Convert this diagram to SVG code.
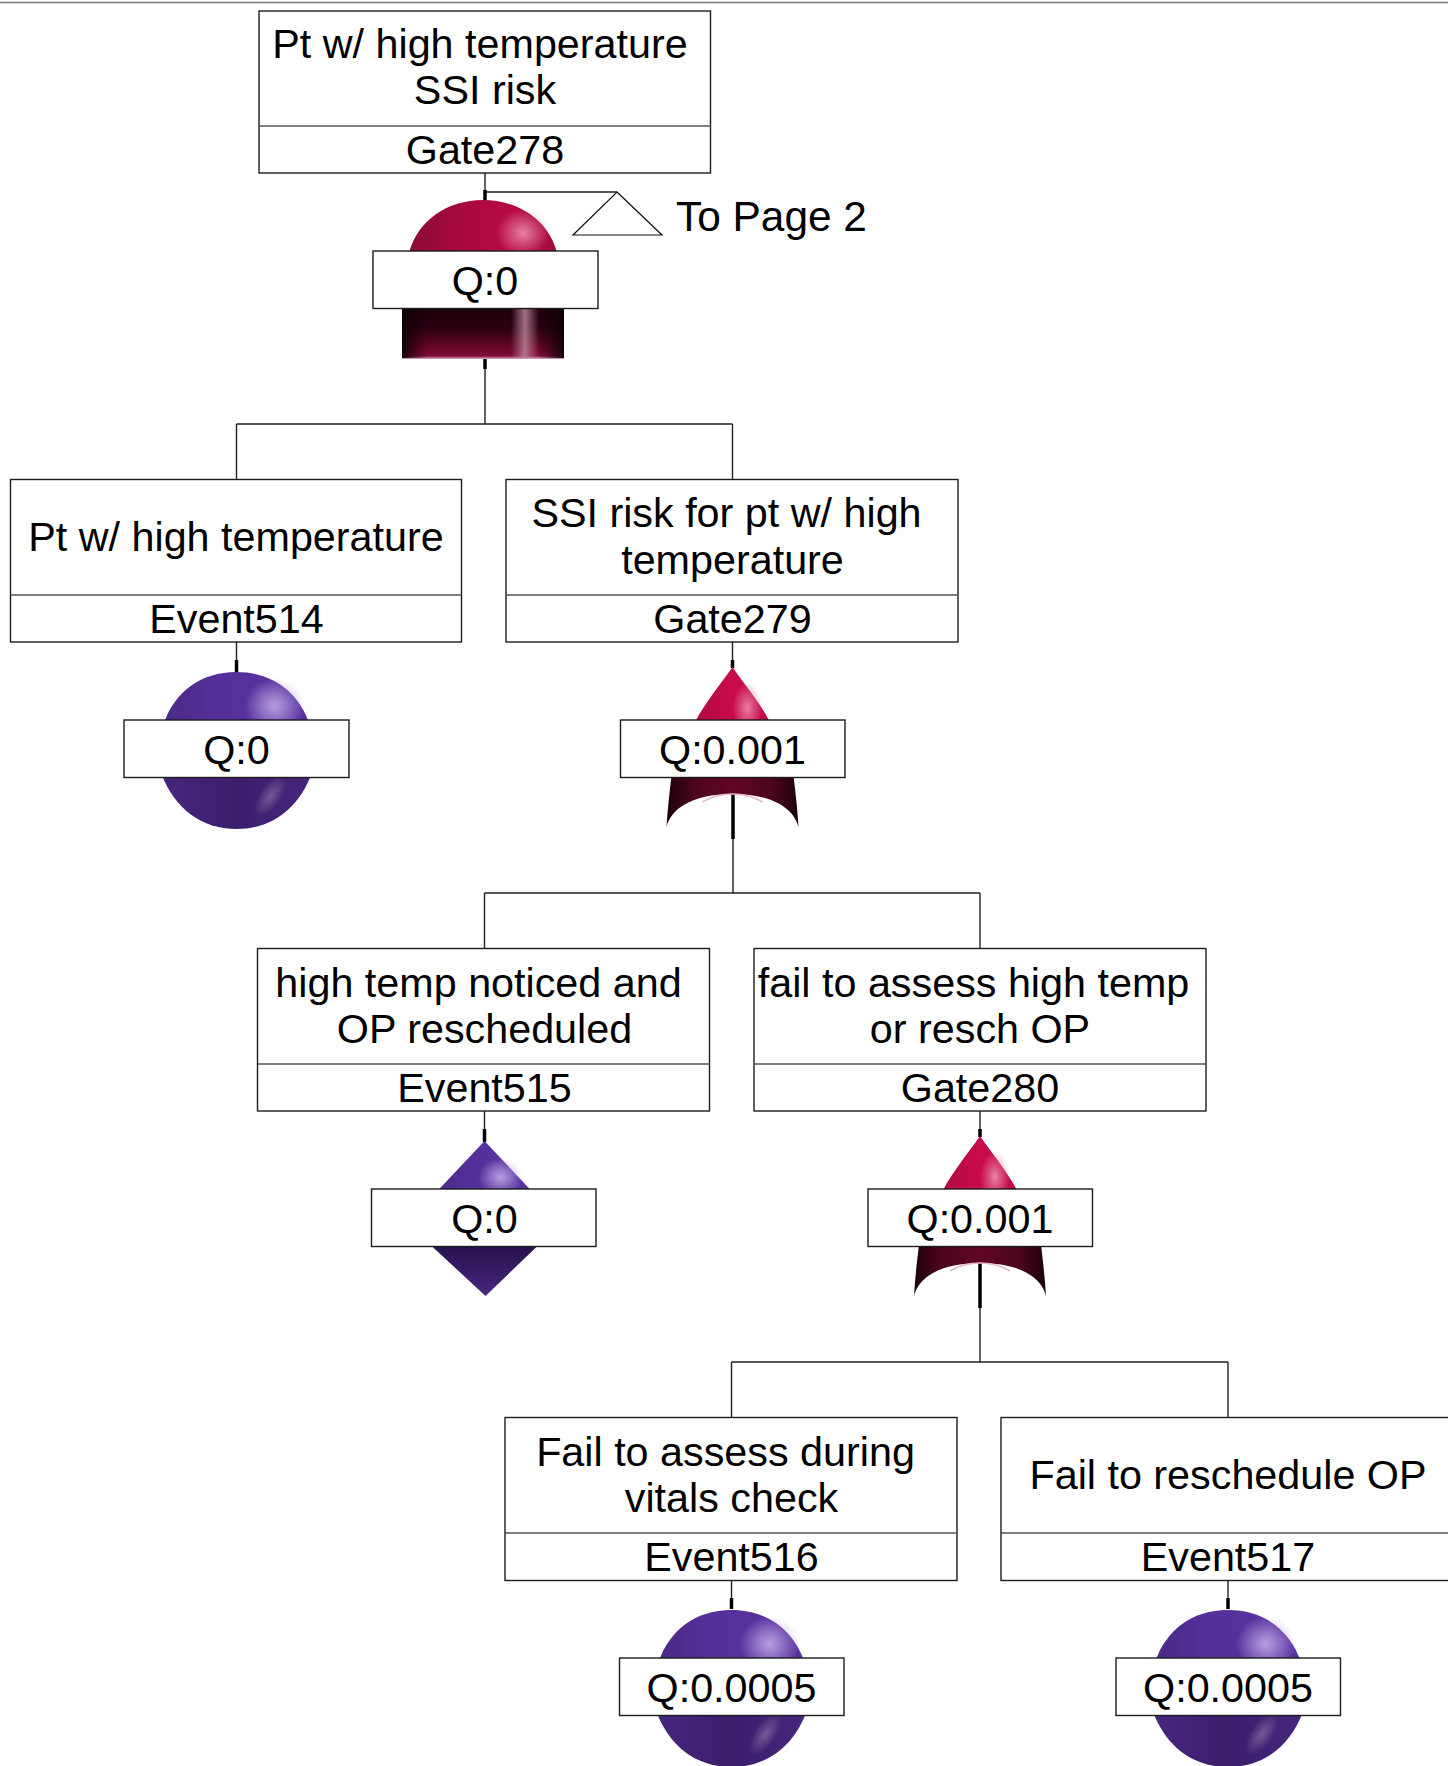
<svg xmlns="http://www.w3.org/2000/svg" xmlns:xlink="http://www.w3.org/1999/xlink" width="1448" height="1766" viewBox="0 0 1448 1766">
<style>
.box{fill:#fff;stroke:#1c1c1c;stroke-width:1.4}
.div{stroke:#555;stroke-width:1.4;fill:none}
.con{stroke:#222;stroke-width:1.4;fill:none}
.thick{stroke:#000;stroke-width:3.5;fill:none}
text{font-family:"Liberation Sans",Arial,sans-serif;font-size:41.3px;fill:#000;text-anchor:middle}
</style>
<defs>
<linearGradient id="crim" x1="0" x2="1" y1="0" y2="0"><stop offset="0" stop-color="#8a0a34"/><stop offset=".35" stop-color="#a80a3e"/><stop offset=".7" stop-color="#b80a44"/><stop offset="1" stop-color="#a00a3c"/></linearGradient>
<linearGradient id="crimTip" x1="0" x2="1" y1="0" y2="0"><stop offset="0" stop-color="#b00a40"/><stop offset=".5" stop-color="#c80a4c"/><stop offset="1" stop-color="#c00a48"/></linearGradient>
<radialGradient id="pink"><stop offset="0" stop-color="#ec86aa" stop-opacity=".95"/><stop offset=".45" stop-color="#ec86aa" stop-opacity=".5"/><stop offset="1" stop-color="#ec86aa" stop-opacity="0"/></radialGradient>
<linearGradient id="darkV" x1="0" x2="0" y1="0" y2="1"><stop offset="0" stop-color="#1c000c"/><stop offset=".4" stop-color="#2c0012"/><stop offset=".75" stop-color="#640626"/><stop offset=".94" stop-color="#800c38"/><stop offset="1" stop-color="#e4b0c4"/></linearGradient>
<linearGradient id="darkH" x1="0" x2="1" y1="0" y2="0"><stop offset="0" stop-color="#100008" stop-opacity=".95"/><stop offset=".16" stop-color="#100008" stop-opacity="0"/><stop offset=".84" stop-color="#100008" stop-opacity="0"/><stop offset="1" stop-color="#100008" stop-opacity=".95"/></linearGradient>
<linearGradient id="band" x1="0" x2="1" y1="0" y2="0"><stop offset="0" stop-color="#c08aa0" stop-opacity="0"/><stop offset=".5" stop-color="#c08aa0" stop-opacity=".8"/><stop offset="1" stop-color="#c08aa0" stop-opacity="0"/></linearGradient>
<linearGradient id="orLow" x1="0" x2="1" y1="0" y2="0"><stop offset="0" stop-color="#1c000c"/><stop offset=".2" stop-color="#4c041c"/><stop offset=".5" stop-color="#620624"/><stop offset=".8" stop-color="#4c041c"/><stop offset="1" stop-color="#1c000c"/></linearGradient>
<linearGradient id="pur" x1="0" x2="1" y1="0" y2="0"><stop offset="0" stop-color="#4a2a88"/><stop offset=".4" stop-color="#55309a"/><stop offset="1" stop-color="#5a32a0"/></linearGradient>
<linearGradient id="purLow" x1="0" x2="1" y1="0" y2="0"><stop offset="0" stop-color="#46267e"/><stop offset=".5" stop-color="#3a1e6c"/><stop offset="1" stop-color="#46267e"/></linearGradient>
<radialGradient id="lilac"><stop offset="0" stop-color="#baa4e4" stop-opacity=".95"/><stop offset=".45" stop-color="#baa4e4" stop-opacity=".55"/><stop offset="1" stop-color="#baa4e4" stop-opacity="0"/></radialGradient>
<radialGradient id="lilacLow"><stop offset="0" stop-color="#7a6098" stop-opacity=".9"/><stop offset="1" stop-color="#7a6098" stop-opacity="0"/></radialGradient>
<linearGradient id="diaLow" x1="0" x2="0" y1="0" y2="1"><stop offset="0" stop-color="#26124e"/><stop offset="1" stop-color="#482680"/></linearGradient>
<g id="andGate">
<path d="M-76 2C-68-30-38-51-2-51C34-51 64-30 72 2Z" fill="url(#crim)"/>
<ellipse cx="38" cy="-18" rx="27" ry="24" fill="url(#pink)"/>
<rect x="-83" y="57" width="162" height="51" fill="url(#darkV)"/>
<rect x="-83" y="57" width="162" height="50" fill="url(#darkH)"/>
<rect x="26" y="57" width="28" height="50" fill="url(#band)"/>
</g>
<g id="orGate">
<path d="M0-53C10-38 26-20 38 3L-38 3C-26-20-10-38 0-53Z" fill="url(#crimTip)"/>
<ellipse cx="15" cy="-12" rx="15" ry="26" fill="url(#pink)"/>
<path d="M-61 56L61 56C63 72 65 90 66 107C62 90 42 74 0 74C-42 74-62 90-66 107C-65 90-63 72-61 56Z" fill="url(#orLow)"/>
<path d="M-30 82C-20 76-10 74 0 74C10 74 20 76 30 82" fill="none" stroke="#e4b8c8" stroke-width="1.6"/>
</g>
<g id="sphere">
<path d="M-73 4C-62-28-36-48 0-48C36-48 62-28 73 4Z" fill="url(#pur)"/>
<ellipse cx="38" cy="-14" rx="30" ry="28" fill="url(#lilac)"/>
<path d="M-75 54C-62 88-36 109 0 109C36 109 62 88 75 54Z" fill="url(#purLow)"/>
<ellipse cx="34" cy="76" rx="11" ry="24" transform="rotate(35 34 76)" fill="url(#lilacLow)"/>
</g>
<g id="diamond">
<path d="M0-48L49 4L-49 4Z" fill="url(#pur)"/>
<ellipse cx="16" cy="-12" rx="22" ry="19" fill="url(#lilac)"/>
<path d="M-54 56L54 56L1 107Z" fill="url(#diaLow)"/>
</g>
</defs>
<rect width="1448" height="1766" fill="#fff"/>
<line x1="0" y1="2.5" x2="1448" y2="2.5" stroke="#777" stroke-width="1.6"/>
<g id="connectors">
<path class="con" d="M485 173V192H617"/>
<path class="thick" d="M485 190V201"/>
<path class="con" d="M485 359V424M236.500 424H732.500M236.500 424V480M732.500 424V480"/>
<path class="thick" d="M485 359V369"/>
<path class="con" d="M236.500 642V673"/>
<path class="thick" d="M236.500 660V673"/>
<path class="con" d="M732.500 642V668"/>
<path class="thick" d="M732.500 660V668"/>
<path class="con" d="M733 778V893M484.500 893H980M484.500 893V949M980 893V949"/>
<path class="thick" d="M733 790V839"/>
<path class="con" d="M484.500 1111V1142"/>
<path class="thick" d="M484.500 1129V1142"/>
<path class="con" d="M980 1111V1137"/>
<path class="thick" d="M980 1129V1137"/>
<path class="con" d="M980 1247V1362M731.500 1362H1228M731.500 1362V1418M1228 1362V1418"/>
<path class="thick" d="M980 1259V1308"/>
<path class="con" d="M731.500 1580V1609"/>
<path class="thick" d="M731.500 1598V1609"/>
<path class="con" d="M1228 1580V1609"/>
<path class="thick" d="M1228 1598V1609"/>
</g>
<g id="Gate278">
<use xlink:href="#andGate" href="#andGate" x="485" y="251"/>
<rect class="box" x="259" y="11" width="451.500" height="162"/>
<line class="div" x1="259" y1="126" x2="711" y2="126"/>
<text x="480" y="58">Pt w/ high temperature</text>
<text x="485" y="104">SSI risk</text>
<text x="485" y="164">Gate278</text>
<rect class="box" x="373" y="251" width="225" height="57.500"/>
<text x="485" y="295">Q:0</text>
</g>
<g id="ToPage2">
<path d="M617 192L662 235H573Z" fill="#fff" stroke="#111" stroke-width="1.2"/>
<text x="676" y="231" style="text-anchor:start;font-size:42.4px">To Page 2</text>
</g>
<g id="Event514">
<use xlink:href="#sphere" href="#sphere" x="236.500" y="720"/>
<rect class="box" x="10.500" y="479.500" width="451" height="162.500"/>
<line class="div" x1="10.500" y1="595" x2="461.500" y2="595"/>
<text x="236" y="551">Pt w/ high temperature</text>
<text x="236.500" y="633">Event514</text>
<rect class="box" x="124" y="720" width="225" height="57.500"/>
<text x="236.500" y="764">Q:0</text>
</g>
<g id="Gate279">
<use xlink:href="#orGate" href="#orGate" x="732.500" y="720"/>
<rect class="box" x="506" y="479.500" width="452" height="162.500"/>
<line class="div" x1="506" y1="595" x2="958" y2="595"/>
<text x="726.500" y="527">SSI risk for pt w/ high</text>
<text x="732.500" y="574">temperature</text>
<text x="732.500" y="633">Gate279</text>
<rect class="box" x="620.500" y="720" width="224.500" height="57.500"/>
<text x="732.500" y="764">Q:0.001</text>
</g>
<g id="Event515">
<use xlink:href="#diamond" href="#diamond" x="484.500" y="1189"/>
<rect class="box" x="257.500" y="948.500" width="452" height="162.500"/>
<line class="div" x1="257.500" y1="1064" x2="709.500" y2="1064"/>
<text x="478.500" y="997">high temp noticed and</text>
<text x="484.500" y="1043">OP rescheduled</text>
<text x="484.500" y="1102">Event515</text>
<rect class="box" x="371.500" y="1189" width="224.500" height="57.500"/>
<text x="484.500" y="1233">Q:0</text>
</g>
<g id="Gate280">
<use xlink:href="#orGate" href="#orGate" x="980" y="1189"/>
<rect class="box" x="754" y="948.500" width="452" height="162.500"/>
<line class="div" x1="754" y1="1064" x2="1206" y2="1064"/>
<text x="973.500" y="997">fail to assess high temp</text>
<text x="980" y="1043">or resch OP</text>
<text x="980" y="1102">Gate280</text>
<rect class="box" x="868" y="1189" width="224.500" height="57.500"/>
<text x="980" y="1233">Q:0.001</text>
</g>
<g id="Event516">
<use xlink:href="#sphere" href="#sphere" x="731.500" y="1658"/>
<rect class="box" x="505" y="1417.500" width="452" height="163"/>
<line class="div" x1="505" y1="1533" x2="957" y2="1533"/>
<text x="725.500" y="1466">Fail to assess during</text>
<text x="731.500" y="1512">vitals check</text>
<text x="731.500" y="1571">Event516</text>
<rect class="box" x="619.500" y="1658" width="224.500" height="57.500"/>
<text x="731.500" y="1702">Q:0.0005</text>
</g>
<g id="Event517">
<use xlink:href="#sphere" href="#sphere" x="1228" y="1658"/>
<rect class="box" x="1001" y="1417.500" width="460" height="163"/>
<line class="div" x1="1001" y1="1533" x2="1448" y2="1533"/>
<text x="1228" y="1489">Fail to reschedule OP</text>
<text x="1228" y="1571">Event517</text>
<rect class="box" x="1116" y="1658" width="224.500" height="57.500"/>
<text x="1228" y="1702">Q:0.0005</text>
</g>
</svg>
